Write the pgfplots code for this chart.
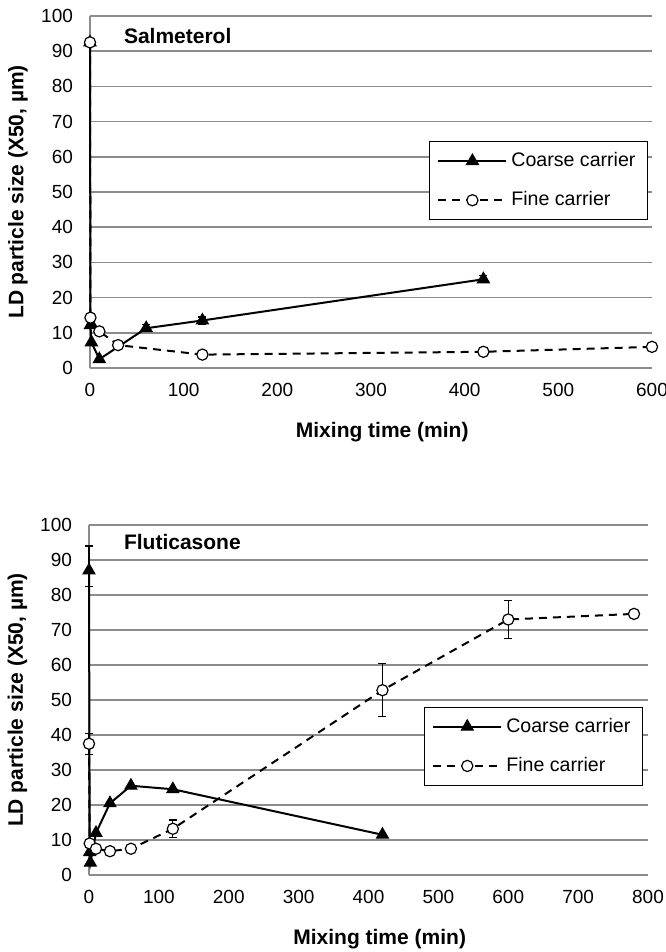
\documentclass[border=0pt]{standalone}
\usepackage{fontspec}
\setmainfont{Liberation Sans}
\usepackage{pgfplots}
\pgfplotsset{compat=1.18}
\definecolor{gridgray}{RGB}{140,140,140}
\pgfplotsset{
  base/.style={
    scale only axis,
    axis x line*=bottom, axis y line*=left,
    axis line style={draw=gridgray, line width=0.75pt, -},
    ymajorgrids, grid style={draw=gridgray, line width=0.75pt},
    ymin=0, ymax=100, ytick={0,10,...,100},
    major tick length=0pt,
    clip=false,
    /pgf/number format/assume math mode=true,
    tick label style={font=\fontsize{9.5}{11}\selectfont},
    yticklabel style={xshift=-5pt},
    xticklabel style={yshift=-4pt},
    ylabel={LD particle size (X50, µm)},
    xlabel={Mixing time (min)},
    every axis y label/.style={at={(axis description cs:-0.128,0.5)}, rotate=90, anchor=center, font=\bfseries\fontsize{10.5}{12}\selectfont},
    every axis x label/.style={at={(axis description cs:0.52,-0.182)}, anchor=center, font=\bfseries\fontsize{10.5}{12}\selectfont},
    legend cell align=left,
    legend image code/.code={\draw[mark repeat=2,mark phase=2,#1] plot coordinates {(0pt,0pt) (17pt,0pt) (34pt,0pt)};},
    legend style={draw=black, line width=0.5pt, fill=white, font=\fontsize{9.8}{11}\selectfont, anchor=north east, inner xsep=4pt, inner ysep=3.5pt, row sep=7pt, /tikz/every even column/.append style={column sep=2pt}},
  },
  coarse/.style={black, line width=1pt, solid, mark=triangle*, mark size=3.4pt, mark options={solid, fill=black, draw=black, line width=0.6pt}},
  fine/.style={black, line width=1pt, dash pattern=on 4pt off 3pt, mark=*, mark size=2.8pt, mark options={solid, fill=white, draw=black, line width=0.6pt}},
  ebar/.style={/pgfplots/error bars/y dir=both, /pgfplots/error bars/y explicit,
    /pgfplots/error bars/error bar style={solid, black, line width=0.6pt},
    /pgfplots/error bars/error mark options={rotate=90, mark size=2pt, line width=0.6pt, black, solid}},
}
\begin{document}
\begin{tikzpicture}
\path[use as bounding box] (0,0) rectangle (332.5pt,476pt);
% Top: Salmeterol
\begin{axis}[base, at={(45pt,292pt)}, anchor=south west, width=281pt, height=176pt,
  xmin=0, xmax=600, xtick={0,100,...,600},
  legend style={at={(0.993,0.645)}}]
\addplot[coarse, ebar] coordinates {
  (0,92.5) +- (0,0) (0.5,12.2) +- (0,0) (1.5,7.3) +- (0,0) (10,2.5) +- (0,0)
  (60,11.3) +- (0,1) (120,13.5) +- (0,1) (420,25.2) +- (0,1)};
\addlegendentry{Coarse carrier}
\addplot[fine, ebar] coordinates {
  (0,92.5) +- (0,0) (0.5,14.3) +- (0,0) (10,10.4) +- (0,0) (30,6.5) +- (0,1)
  (120,3.8) +- (0,0) (420,4.6) +- (0,0) (600,6.0) +- (0,0)};
\addlegendentry{Fine carrier}
\node[anchor=west, font=\bfseries\fontsize{10.5}{12}\selectfont] at (rel axis cs:0.048,0.943) {Salmeterol};
\end{axis}
% Bottom: Fluticasone
\begin{axis}[base, at={(44.5pt,38.5pt)}, anchor=south west, width=279.5pt, height=175pt,
  xmin=0, xmax=800, xtick={0,100,...,800},
  legend style={at={(0.991,0.481)}}]
\addplot[coarse, ebar] coordinates {
  (0,87) += (0,7) -= (0,4.5) (1,6.5) +- (0,0) (2,3.5) +- (0,0) (10,12) +- (0,0)
  (30,20.5) +- (0,0) (60,25.5) +- (0,0) (120,24.5) +- (0,0) (420,11.5) +- (0,0)};
\addlegendentry{Coarse carrier}
\addplot[fine, ebar] coordinates {
  (0,37.5) +- (0,3) (1,9) +- (0,0) (10,7.5) +- (0,0) (30,6.8) +- (0,0) (60,7.5) +- (0,0)
  (120,13.2) +- (0,2.5) (420,52.8) +- (0,7.6) (600,73.0) +- (0,5.4) (780,74.6) +- (0,0)};
\addlegendentry{Fine carrier}
\node[anchor=west, font=\bfseries\fontsize{10.5}{12}\selectfont] at (rel axis cs:0.050,0.952) {Fluticasone};
\end{axis}
\end{tikzpicture}
\end{document}
